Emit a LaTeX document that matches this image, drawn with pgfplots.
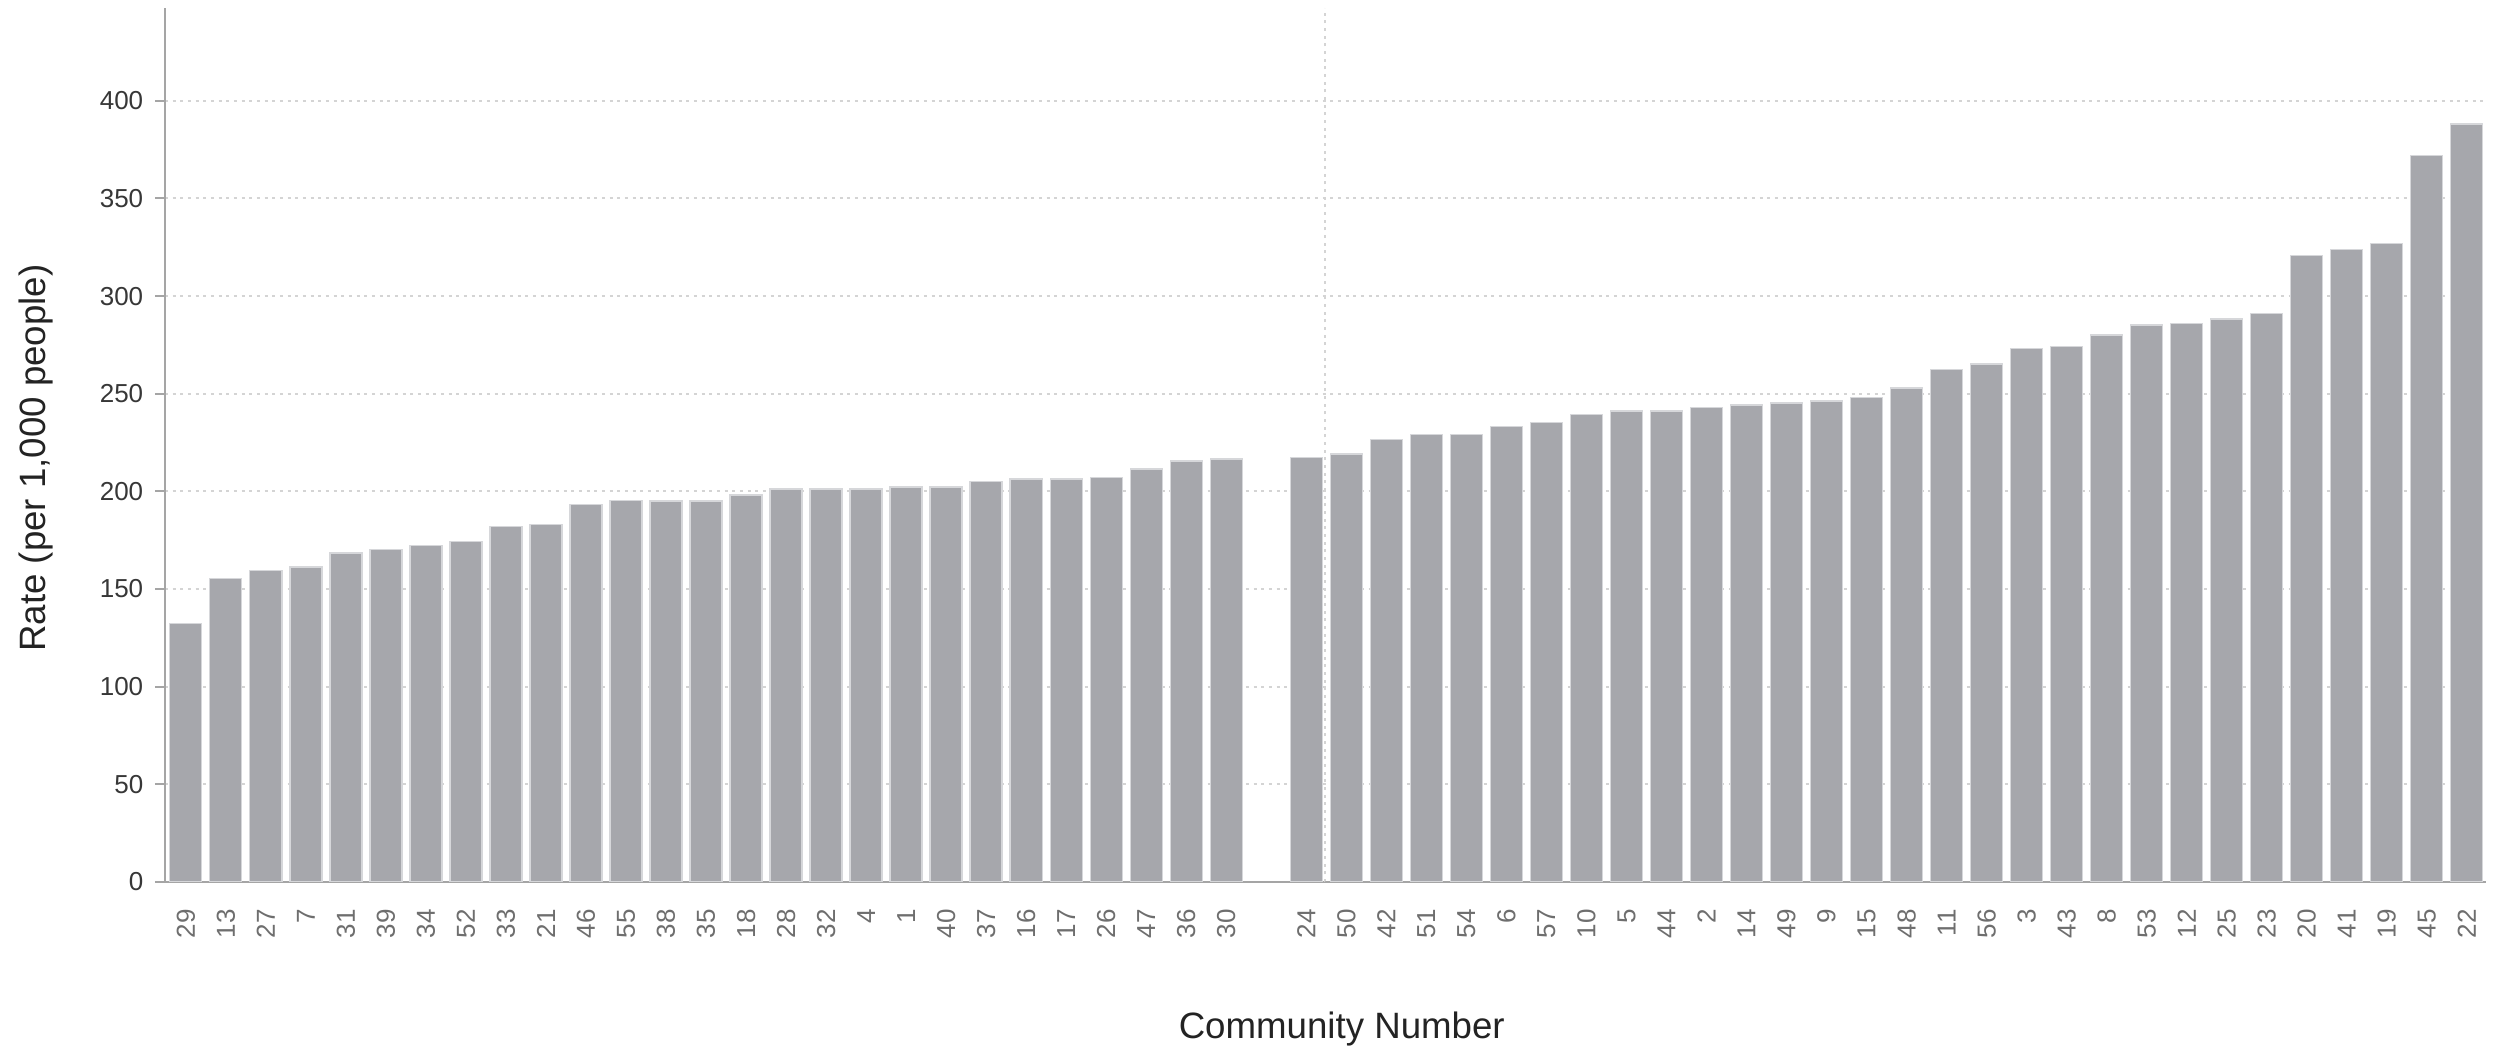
\documentclass[border=0pt]{standalone}
\usepackage{fontspec}
\setmainfont{Liberation Sans}
\usepackage{pgfplots}
\usepackage{pgfplotstable}
\pgfplotsset{compat=1.18}
\definecolor{barc}{RGB}{166,167,172}
\definecolor{barl}{RGB}{214,215,218}
\definecolor{gridc}{RGB}{212,212,212}
\definecolor{axc}{RGB}{165,165,165}
\definecolor{ytc}{RGB}{55,55,55}
\definecolor{xtc}{RGB}{110,110,110}
\definecolor{labc}{RGB}{35,35,35}
\pgfplotstableread{
x y label
0 132.4 29
1 155.4 13
2 159.4 27
3 161.3 7
4 168.5 31
5 170.1 39
6 172.3 34
7 174.3 52
8 182.0 33
9 183.1 21
10 193.2 46
11 195.2 55
12 195.1 38
13 195.1 35
14 198.1 18
15 201.2 28
16 201.2 32
17 201.2 4
18 202.2 1
19 202.2 40
20 205.1 37
21 206.3 16
22 206.3 17
23 207.1 26
24 211.4 47
25 215.5 36
26 216.5 30
28 217.2 24
29 219.2 50
30 226.4 42
31 229.1 51
32 229.1 54
33 233.2 6
34 235.4 57
35 239.3 10
36 241.2 5
37 241.2 44
38 243.0 2
39 244.2 14
40 245.2 49
41 246.3 9
42 248.1 15
43 253.0 48
44 262.4 11
45 265.3 56
46 273.3 3
47 274.1 43
48 280.1 8
49 285.2 53
50 286.1 12
51 288.3 25
52 291.2 23
53 320.9 20
54 324.0 41
55 327.0 19
56 371.9 45
57 388.1 22
}\datatable
\begin{document}
\begin{tikzpicture}
\useasboundingbox (-49.5pt,-51pt) rectangle (703.5pt,264.6pt);
\begin{axis}[
  at={(0,0)}, anchor=south west,
  width=696.3pt, height=262.2pt, scale only axis,
  xmin=-0.52, xmax=57.48, ymin=0, ymax=447.5,
  axis x line*=bottom, axis y line*=left,
  axis line style={draw=axc, line width=0.8pt},
  ytick={0,50,...,400},
  xtick=data,
  xticklabels from table={\datatable}{label},
  ymajorgrids,
  major grid style={draw=gridc, dash pattern=on 0.9pt off 1.4pt, line width=0.55pt},
  tick align=outside,
  major tick length=3pt,
  ytick style={draw=axc, line width=0.6pt},
  xtick style={draw=none},
  /pgf/number format/assume math mode=true,
  yticklabel style={font=\fontsize{7.8}{9}\selectfont, text=ytc},
  xticklabel style={font=\fontsize{7.8}{9}\selectfont, text=xtc, yshift=-1.7pt, rotate=90, anchor=east},
  xlabel={Community Number},
  ylabel={Rate (per 1,000 people)},
  label style={font=\fontsize{11}{13}\selectfont, text=labc},
  xlabel style={at={(axis description cs:0.507,-0.1796)}, anchor=base},
  ylabel style={at={(axis description cs:-0.0517,0.485)}, anchor=base},
]
\draw[draw=gridc, dash pattern=on 0.9pt off 1.4pt, line width=0.55pt] (axis cs:28.46,0) -- (axis cs:28.46,447.5);
\draw[draw=axc, line width=0.6pt] (axis cs:28.46,0) -- ++(0,-3pt);
\addplot[ybar, bar width=0.8, fill=barc, draw=barl, line width=0.4pt] table[x=x,y=y]{\datatable};
\end{axis}
\end{tikzpicture}
\end{document}
